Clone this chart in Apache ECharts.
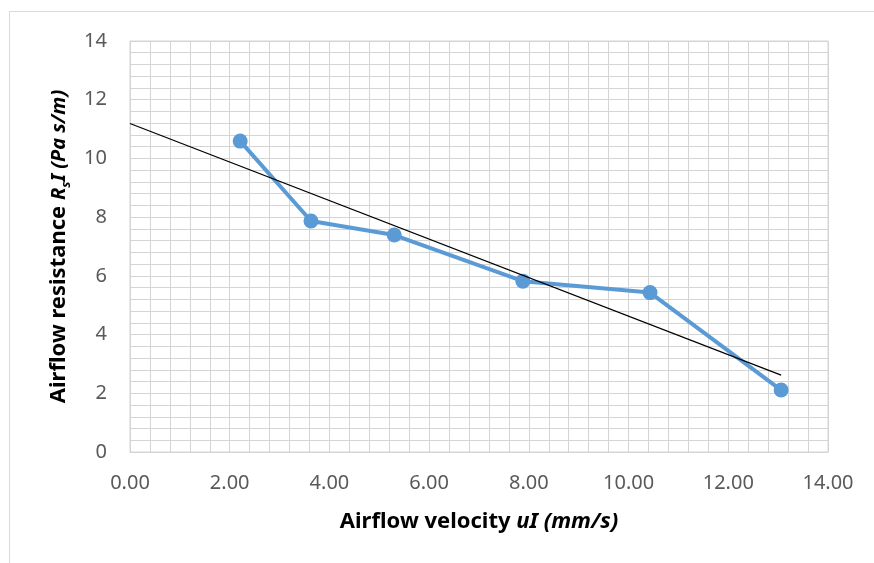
<!DOCTYPE html>
<html>
<head>
<meta charset="utf-8">
<script src="https://cdn.jsdelivr.net/npm/echarts@6/dist/echarts.min.js"></script>
<style>
	html, body { margin: 0; padding: 0; background: #fff; }
	#frame { position: absolute; left: 9px; top: 11px; width: 900px; height: 600px; border: 1px solid #d9d9d9; box-sizing: border-box; }
	#main { position: absolute; left: 0; top: 0; width: 874px; height: 563px; }
</style>
</head>
<body>
<div id="frame"></div>
<div id="main"></div>
<script>
// measured points (airflow velocity, resistance)
var velocity = [2.21, 3.63, 5.30, 7.88, 10.43, 13.06];
var resistance = [10.59, 7.87, 7.39, 5.82, 5.43, 2.11];
// linear trendline ends
var trendX = [0, 13.06];
var trendY = [11.19, 2.62];
var xTicks = [0, 2, 4, 6, 8, 10, 12, 14];
var yTicks = [0, 2, 4, 6, 8, 10, 12, 14];

var pts = velocity.map(function(v, i) { return [v, resistance[i]]; });
var trend = trendX.map(function(v, i) { return [v, trendY[i]]; });

var gridColor = '#d4d4d4';
var fontName = 'Noto Sans';

var myChart = echarts.init(document.getElementById('main'));
myChart.setOption({
	animation: false,
	grid: { left: 130, top: 41, right: 46, bottom: 111, show: true, borderColor: gridColor, borderWidth: 1 },
	xAxis: {
		type: 'value',
		min: xTicks[0],
		max: xTicks[xTicks.length - 1],
		interval: 2,
		axisLine: { show: true, lineStyle: { color: gridColor } },
		axisTick: { show: false },
		axisLabel: {
			margin: 21, color: '#595959', fontSize: 20, fontFamily: fontName,
			formatter: function(v) { return v.toFixed(2); }
		},
		splitLine: { show: true, lineStyle: { color: gridColor } },
		minorTick: { show: false, splitNumber: 5 },
		minorSplitLine: { show: true, lineStyle: { color: gridColor } },
		name: '{b|Airflow velocity }{bi|uI (mm/s)}',
		nameLocation: 'middle',
		nameGap: 59,
		nameTextStyle: {
			rich: {
				b: { fontSize: 22, fontWeight: 'bold', color: '#000', fontFamily: fontName },
				bi: { fontSize: 22, fontWeight: 'bold', fontStyle: 'italic', color: '#000', fontFamily: fontName }
			}
		}
	},
	yAxis: {
		type: 'value',
		min: yTicks[0],
		max: yTicks[yTicks.length - 1],
		interval: 2,
		axisLine: { show: true, lineStyle: { color: gridColor } },
		axisTick: { show: false },
		axisLabel: { margin: 23, color: '#595959', fontSize: 20, fontFamily: fontName },
		splitLine: { show: true, lineStyle: { color: gridColor } },
		minorTick: { show: false, splitNumber: 5 },
		minorSplitLine: { show: true, lineStyle: { color: gridColor } },
		name: '{b|Airflow resistance }{bi|R}{sub|s}{bi|I (Pa s/m)}',
		nameLocation: 'middle',
		nameRotate: 90,
		nameGap: 57,
		nameTextStyle: {
			rich: {
				b: { fontSize: 22, fontWeight: 'bold', color: '#000', fontFamily: fontName, lineHeight: 28 },
				bi: { fontSize: 20, fontWeight: 'bold', fontStyle: 'italic', color: '#000', fontFamily: fontName, lineHeight: 28 },
				sub: { fontSize: 13, fontWeight: 'bold', fontStyle: 'italic', color: '#000', fontFamily: fontName, verticalAlign: 'bottom', lineHeight: 28, padding: [8, 0, 0, 0] }
			}
		}
	},
	series: [
		{
			name: 'resistance',
			type: 'line',
			data: pts,
			symbol: 'circle',
			symbolSize: 15,
			itemStyle: { color: '#5b9bd5' },
			lineStyle: { color: '#5b9bd5', width: 4 },
			z: 3
		},
		{
			name: 'trend',
			type: 'line',
			data: trend,
			symbol: 'none',
			lineStyle: { color: '#000', width: 1.2 },
			z: 4
		}
	]
});
</script>
</body>
</html>
